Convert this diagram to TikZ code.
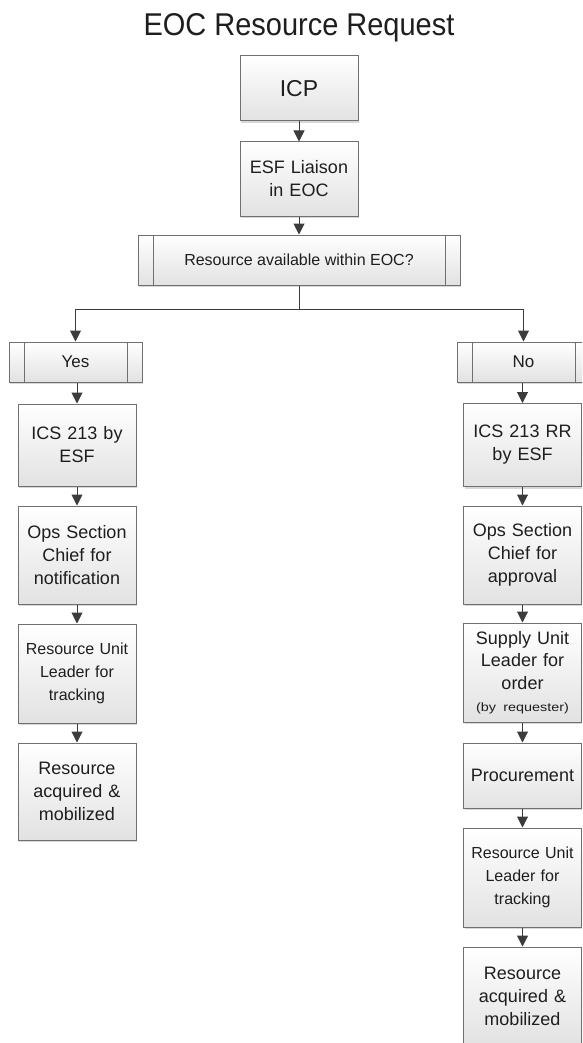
\documentclass[tikz,border=0pt]{standalone}
\usepackage{fontspec}
\usepackage{graphicx}
\setmainfont{Liberation Sans}
\usetikzlibrary{arrows.meta,shadows}

\definecolor{boxedge}{HTML}{707070}
\definecolor{arrowcol}{HTML}{3C3C3C}
\definecolor{boxbottom}{HTML}{E2E2E2}
\definecolor{textcol}{HTML}{1E1E1E}

\tikzset{
  flowbox/.style={draw=boxedge, line width=1pt,
    top color=white, bottom color=boxbottom,
    drop shadow={shadow xshift=1pt, shadow yshift=-2pt, opacity=0.3, fill=gray},
    text=textcol, align=center, inner sep=2pt,
    font=\fontsize{18}{23}\selectfont},
  colbox/.style={flowbox, minimum width=118pt, text width=112pt},
  subproc/.style={flowbox, font=\fontsize{16}{20}\selectfont,
    path picture={
      \draw[boxedge, line width=1pt]
        ([xshift=15pt]path picture bounding box.north west) --
        ([xshift=15pt]path picture bounding box.south west);
      \draw[boxedge, line width=1pt]
        ([xshift=-15pt]path picture bounding box.north east) --
        ([xshift=-15pt]path picture bounding box.south east);
    }},
  smalltext/.style={font=\fontsize{16}{23}\selectfont},
  arr/.style={draw=arrowcol, line width=1pt, -{Triangle[width=11pt,length=11pt]}},
  link/.style={draw=arrowcol, line width=1pt},
}

\begin{document}
\begin{tikzpicture}[x=1pt, y=-1pt]
  \clip (0,0) rectangle (582,1043);
  \fill[white] (0,0) rectangle (582,1043);

  % heading
  \node[anchor=base, text=textcol, inner sep=0pt, font=\fontsize{31.5}{36}\selectfont]
    (title) at (299,36) {\scalebox{0.92}[1]{EOC Resource Request}};

  % main spine
  \node[flowbox, minimum width=118pt, minimum height=65pt,
        font=\fontsize{23}{28}\selectfont] (icp) at (299,88.5) {ICP};
  \node[colbox, minimum height=74pt] (esf) at (299,179) {ESF Liaison\\in EOC};
  \node[subproc, minimum width=322pt, minimum height=50pt] (dec) at (299,260)
    {Resource available within EOC?};

  % branches
  \node[subproc, minimum width=133pt, minimum height=40pt,
        font=\fontsize{17}{20}\selectfont] (yes) at (75.5,362) {Yes};
  \node[subproc, minimum width=133pt, minimum height=40pt,
        font=\fontsize{17}{20}\selectfont] (no) at (523.5,362) {No};

  % left column
  \node[colbox, minimum height=82pt] (l1) at (77,445) {ICS 213 by\\ESF};
  \node[colbox, minimum height=98pt] (l2) at (77,555) {Ops Section\\Chief for\\notification};
  \node[colbox, smalltext, minimum height=99pt] (l3) at (77,673.5) {Resource Unit\\Leader for\\tracking};
  \node[colbox, minimum height=97pt] (l4) at (77,791.5) {Resource\\acquired \&\\mobilized};

  % right column
  \node[colbox, minimum height=83pt] (r1) at (522.5,445) {ICS 213 RR\\by ESF};
  \node[colbox, minimum height=98pt] (r2) at (522.5,555) {Ops Section\\Chief for\\approval};
  \node[colbox, minimum height=99pt, font=\fontsize{18}{22.5}\selectfont] (r3) at (522.5,672.5)
    {Supply Unit\\Leader for\\order\\{\fontsize{12}{13}\selectfont\scalebox{1.2}[1]{(by requester)}}};
  \node[colbox, minimum height=65pt] (r4) at (522.5,775.5) {Procurement};
  \node[colbox, smalltext, minimum height=99pt] (r5) at (522.5,877.5) {Resource Unit\\Leader for\\tracking};
  \node[colbox, minimum height=98pt] (r6) at (522.5,996) {Resource\\acquired \&\\mobilized};

  % connectors
  \draw[arr] (icp) -- (esf);
  \draw[arr] (esf) -- (dec);
  \coordinate (split) at (299,309);
  \draw[link] (dec.south) -- (split);
  \draw[arr] (split) -| (yes.north);
  \draw[arr] (split) -| (no.north);

  \draw[arr] (yes.south -| l1.north) -- (l1.north);
  \draw[arr] (l1) -- (l2);
  \draw[arr] (l2) -- (l3);
  \draw[arr] (l3) -- (l4);

  \draw[arr] (no.south -| r1.north) -- (r1.north);
  \draw[arr] (r1) -- (r2);
  \draw[arr] (r2) -- (r3);
  \draw[arr] (r3) -- (r4);
  \draw[arr] (r4) -- (r5);
  \draw[arr] (r5) -- (r6);
\end{tikzpicture}
\end{document}
